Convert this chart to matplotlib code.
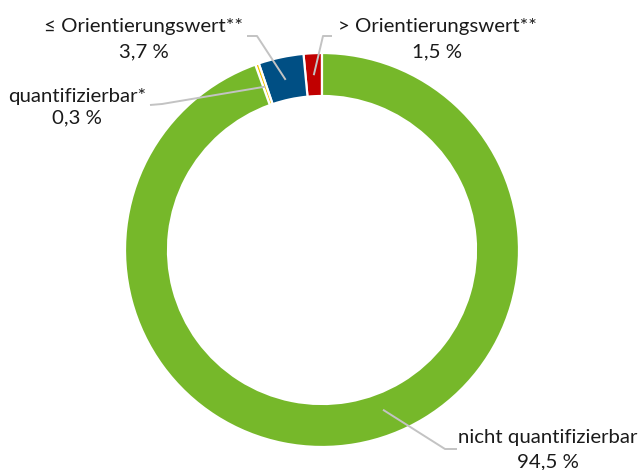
import numpy as np
import matplotlib
matplotlib.use("Agg")
import matplotlib.pyplot as plt

plt.rcParams['font.family'] = ['Lato', 'DejaVu Sans']

categories = ["> Orientierungswert**", "≤ Orientierungswert**", "quantifizierbar*", "nicht quantifizierbar"]
values = [1.5, 3.7, 0.3, 94.5]
value_labels = ["1,5 %", "3,7 %", "0,3 %", "94,5 %"]
colors = ["#c00000", "#004f84", "#f5c400", "#76b82a"]

W, H = 640, 470
fig = plt.figure(figsize=(W / 100, H / 100), dpi=100)
ax = fig.add_axes([0, 0, 1, 1])

cx, cy = 322, 470 - 250
R = 197
width = 43
wedges, _ = ax.pie(values, colors=colors, startangle=90, counterclock=True,
                   radius=R, center=(cx, cy), frame=True,
                   wedgeprops=dict(width=width, edgecolor='white', linewidth=1.6))
ax.set_xlim(0, W)
ax.set_ylim(0, H)
ax.set_aspect('equal')
ax.axis('off')

# label layout: (anchor angle override, anchor radius, elbow, end, text x, baseline1, baseline2)
layout = [
    (None, 175, (323, 36), (332, 36), 437, 32, 57),
    (None, 174, (257, 36), (247, 36), 144, 32, 57),
    (None, 173, (162, 104), (150, 105), 77, 102, 123),
    (290.9, 171, (445, 449), (457, 449), 548, 443, 467),
]
lc = "#c3c3c3"
fs = 14.7
for w, cat, vl, (ang, r, elbow, end, tx, b1, b2) in zip(wedges, categories, value_labels, layout):
    a = ang if ang is not None else (w.theta1 + w.theta2) / 2
    px = cx + r * np.cos(np.radians(a))
    py = cy + r * np.sin(np.radians(a))
    ax.plot([px, elbow[0], end[0]], [py, H - elbow[1], H - end[1]], color=lc, lw=1.4,
            solid_capstyle='butt', zorder=5)
    ax.text(tx, H - b1, cat, ha='center', va='baseline', fontsize=fs, color="#1a1a1a")
    ax.text(tx, H - b2, vl, ha='center', va='baseline', fontsize=fs, color="#1a1a1a")

fig.savefig("out.png", dpi=100)
